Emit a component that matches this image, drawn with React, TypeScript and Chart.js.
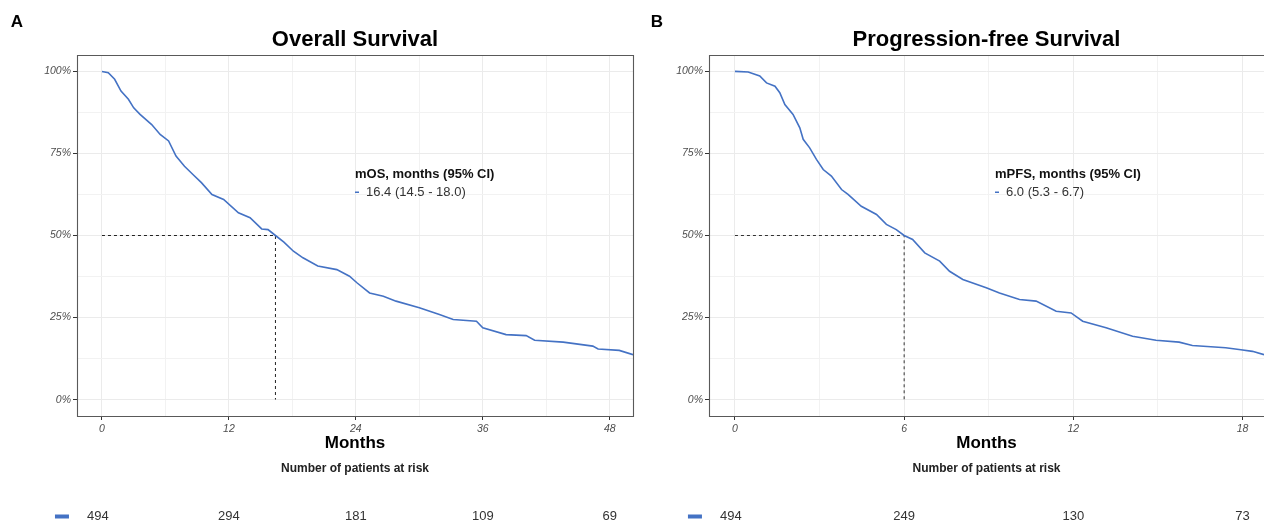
import React, { useEffect, useRef } from "react";
import { Chart, registerables } from "chart.js";

Chart.register(...registerables);

// ---------- DATA ----------
const OS_MONTHS = [0, 0.6, 1.2, 1.8, 2.5, 3.0, 3.6, 4.7, 5.5, 6.3, 7.0, 7.8, 8.6, 9.4, 10.4, 11.5, 12.9, 14.0, 15.1, 15.7, 16.4, 17.2, 18.1, 19.0, 20.4, 22.2, 23.4, 24.1, 25.3, 26.6, 27.8, 30.0, 31.9, 33.2, 35.4, 36.0, 38.2, 40.1, 40.9, 43.6, 46.4, 46.9, 48.9, 50.2];
const OS_SURV = [100, 99.6, 97.6, 94, 91.5, 88.9, 86.9, 83.8, 80.8, 78.8, 74.2, 71.1, 68.6, 66.1, 62.5, 61, 56.9, 55.4, 52, 51.8, 50, 48, 45.2, 43.2, 40.7, 39.6, 37.6, 35.6, 32.5, 31.5, 30, 28, 25.9, 24.4, 23.9, 21.9, 19.8, 19.5, 18.1, 17.5, 16.3, 15.4, 15, 13.7];

const PFS_MONTHS = [0, 0.47, 0.88, 1.12, 1.42, 1.59, 1.77, 2.06, 2.3, 2.42, 2.65, 2.89, 3.13, 3.42, 3.78, 4.01, 4.48, 5.02, 5.37, 5.72, 6.0, 6.3, 6.73, 7.26, 7.61, 8.08, 8.91, 9.38, 10.09, 10.68, 11.39, 11.92, 12.33, 13.16, 14.1, 14.93, 15.75, 16.22, 17.4, 17.94, 18.35, 18.76];
const PFS_SURV = [100, 99.8, 98.6, 96.5, 95.5, 93.5, 89.9, 86.9, 82.8, 79.3, 76.7, 73.2, 70.1, 68.1, 64, 62.5, 58.9, 56.4, 53.4, 51.8, 50, 48.8, 44.7, 42.2, 39.1, 36.6, 34.1, 32.5, 30.5, 30, 26.9, 26.4, 23.9, 21.9, 19.3, 18.1, 17.5, 16.5, 15.8, 15.2, 14.7, 13.7];

const OS_MEDIAN = 16.4;
const PFS_MEDIAN = 6.0;

const OS_TICKS = [0, 6, 12, 18, 24, 30, 36, 42, 48];
const OS_MAJOR = 12;
const PFS_TICKS = [0, 3, 6, 9, 12, 15, 18];
const PFS_MAJOR = 6;
const Y_TICKS = [0, 12.5, 25, 37.5, 50, 62.5, 75, 87.5, 100];

const OS_RISK_TIMES = [0, 12, 24, 36, 48];
const OS_RISK = [494, 294, 181, 109, 69];
const PFS_RISK_TIMES = [0, 6, 12, 18];
const PFS_RISK = [494, 249, 130, 73];

const BLUE = "#4472C4";
const FONT = "'Liberation Sans', Arial, sans-serif";

type Panel = {
  letter: string;
  title: string;
  months: number[];
  surv: number[];
  median: number;
  xMin: number;
  xMax: number;
  xTicks: number[];
  major: number;
  riskTimes: number[];
  risk: number[];
  annTitle: string;
  annText: string;
  width: number;
  yAxisWidth: number;
  padRight: number;
  rightBorder: boolean;
  medianColor: string;
};

const PANELS: Panel[] = [
  {
    letter: "A",
    title: "Overall Survival",
    months: OS_MONTHS,
    surv: OS_SURV,
    median: OS_MEDIAN,
    xMin: -2.36,
    xMax: 50.2,
    xTicks: OS_TICKS,
    major: OS_MAJOR,
    riskTimes: OS_RISK_TIMES,
    risk: OS_RISK,
    annTitle: "mOS, months (95% CI)",
    annText: "16.4 (14.5 - 18.0)",
    width: 640,
    yAxisWidth: 77,
    padRight: 7,
    rightBorder: true,
    medianColor: "#222",
  },
  {
    letter: "B",
    title: "Progression-free Survival",
    months: PFS_MONTHS,
    surv: PFS_SURV,
    median: PFS_MEDIAN,
    xMin: -0.92,
    xMax: 18.76,
    xTicks: PFS_TICKS,
    major: PFS_MAJOR,
    riskTimes: PFS_RISK_TIMES,
    risk: PFS_RISK,
    annTitle: "mPFS, months (95% CI)",
    annText: "6.0 (5.3 - 6.7)",
    width: 624,
    yAxisWidth: 69,
    padRight: 0,
    rightBorder: false,
    medianColor: "#333",
  },
];

function makeConfig(p: Panel): any {
  const decor = {
    id: "decor" + p.letter,
    afterDraw(chart: any) {
      const { ctx, chartArea: a, scales } = chart;
      const x = scales.x;
      ctx.save();
      // panel border
      ctx.strokeStyle = "#595959";
      ctx.lineWidth = 1.1;
      ctx.beginPath();
      if (p.rightBorder) {
        ctx.rect(a.left + 0.5, a.top + 0.5, a.right - a.left, a.bottom - a.top);
      } else {
        ctx.moveTo(a.right + 2, a.top + 0.5);
        ctx.lineTo(a.left + 0.5, a.top + 0.5);
        ctx.lineTo(a.left + 0.5, a.bottom + 0.5);
        ctx.lineTo(a.right + 2, a.bottom + 0.5);
      }
      ctx.stroke();

      const cx = (a.left + a.right) / 2;
      ctx.fillStyle = "#000";
      ctx.textBaseline = "middle";
      ctx.textAlign = "center";
      // letter
      ctx.font = `bold 17px ${FONT}`;
      ctx.fillText(p.letter, 17, 22);
      // title
      ctx.font = `bold 22px ${FONT}`;
      ctx.fillText(p.title, cx, 40);
      // axis title
      ctx.font = `bold 17px ${FONT}`;
      ctx.fillText("Months", cx, 443);
      // risk header
      ctx.fillStyle = "#222";
      ctx.font = `bold 12px ${FONT}`;
      ctx.fillText("Number of patients at risk", cx, 469);
      // risk numbers
      ctx.fillStyle = "#333";
      ctx.font = `13px ${FONT}`;
      p.riskTimes.forEach((t, i) => {
        const px = x.getPixelForValue(t) - (i === 0 ? 4 : 0);
        ctx.fillText(String(p.risk[i]), px, 516);
      });
      ctx.fillStyle = BLUE;
      const x0 = x.getPixelForValue(0);
      ctx.fillRect(x0 - 47, 514.5, 14, 4);

      // annotation
      ctx.textAlign = "left";
      ctx.fillStyle = "#111";
      ctx.font = `bold 13px ${FONT}`;
      ctx.fillText(p.annTitle, 355, 174);
      ctx.fillStyle = BLUE;
      ctx.fillRect(355, 191.5, 4, 1.5);
      ctx.fillStyle = "#333";
      ctx.font = `13px ${FONT}`;
      ctx.fillText(p.annText, 366, 192);
      ctx.restore();
    },
  };

  return {
    type: "line",
    data: {
      datasets: [
        {
          data: p.months.map((t, i) => ({ x: t, y: p.surv[i] })),
          borderColor: BLUE,
          borderWidth: 1.6,
          pointRadius: 0,
          tension: 0,
          fill: false,
        },
        {
          data: [
            { x: 0, y: 50 },
            { x: p.median, y: 50 },
            { x: p.median, y: 0 },
          ],
          borderColor: p.medianColor,
          borderWidth: 1,
          borderDash: [3, 3],
          pointRadius: 0,
          fill: false,
        },
      ],
    },
    options: {
      animation: false,
      responsive: false,
      devicePixelRatio: 1,
      layout: { padding: { left: 0, top: 55, right: p.padRight, bottom: 0 } },
      plugins: { legend: { display: false }, tooltip: { enabled: false } },
      scales: {
        x: {
          type: "linear",
          min: p.xMin,
          max: p.xMax,
          afterFit: (s: any) => {
            s.height = 106;
          },
          afterBuildTicks: (s: any) => {
            s.ticks = p.xTicks.map((v) => ({ value: v }));
          },
          border: { display: false },
          grid: {
            color: (c: any) => (c.tick && c.tick.value % p.major === 0 ? "#ebebeb" : "#f2f2f2"),
            lineWidth: 1,
            tickLength: 4,
            tickColor: (c: any) => (c.tick && c.tick.value % p.major === 0 ? "#333" : "rgba(0,0,0,0)"),
          },
          ticks: {
            autoSkip: false,
            maxRotation: 0,
            padding: 3,
            color: "#4d4d4d",
            font: { family: FONT, size: 10.5, style: "italic" },
            callback: (v: any) => (Number(v) % p.major === 0 ? String(v) : ""),
          },
        },
        y: {
          type: "linear",
          min: -5,
          max: 105,
          afterFit: (s: any) => {
            s.width = p.yAxisWidth;
          },
          afterBuildTicks: (s: any) => {
            s.ticks = Y_TICKS.map((v) => ({ value: v }));
          },
          border: { display: false },
          grid: {
            color: (c: any) => (c.tick && c.tick.value % 25 === 0 ? "#ebebeb" : "#f2f2f2"),
            lineWidth: 1,
            tickLength: 4,
            tickColor: (c: any) => (c.tick && c.tick.value % 25 === 0 ? "#333" : "rgba(0,0,0,0)"),
          },
          ticks: {
            autoSkip: false,
            padding: 2,
            color: "#4d4d4d",
            font: { family: FONT, size: 10.5, style: "italic" },
            callback: (v: any) => (Number(v) % 25 === 0 ? v + "%" : ""),
          },
        },
      },
    },
    plugins: [decor],
  };
}

function PanelChart({ p, left }: { p: Panel; left: number }) {
  const ref = useRef<HTMLCanvasElement | null>(null);
  useEffect(() => {
    if (!ref.current) return;
    const chart = new Chart(ref.current, makeConfig(p));
    return () => chart.destroy();
  }, [p]);
  return (
    <canvas
      ref={ref}
      width={p.width}
      height={522}
      style={{ position: "absolute", left, top: 0, width: p.width, height: 522 }}
    />
  );
}

export default function App() {
  useEffect(() => {
    document.body.style.margin = "0";
  }, []);
  return (
    <div style={{ position: "relative", width: 1264, height: 522, background: "#fff", overflow: "hidden" }}>
      <PanelChart p={PANELS[0]} left={0} />
      <PanelChart p={PANELS[1]} left={640} />
    </div>
  );
}
